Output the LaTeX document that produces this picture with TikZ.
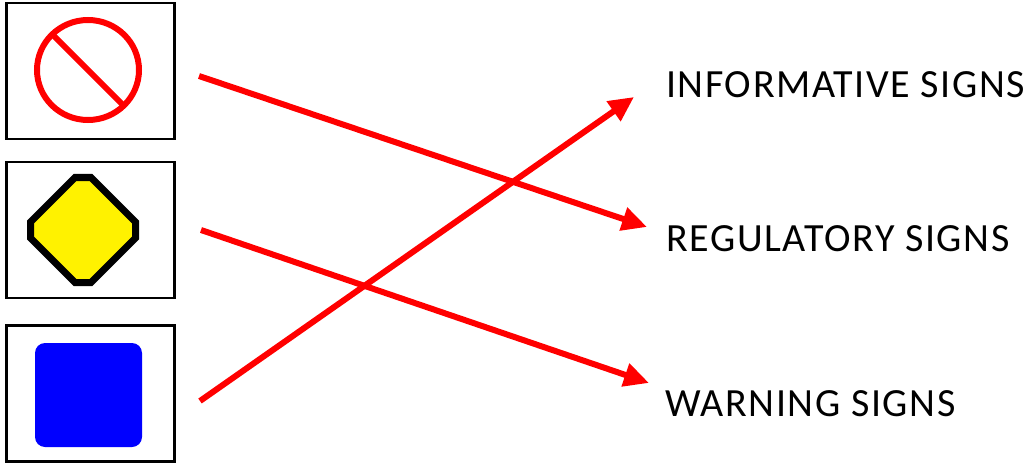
\documentclass[tikz,border=0pt]{standalone}
\usepackage{fontspec}
\setmainfont{Carlito}
\usepackage{tikz}
\usetikzlibrary{positioning,arrows.meta}
\tikzset{signbox/.style={rectangle, draw=black, line width=2.5pt, fill=white, minimum width=168pt, minimum height=136pt, inner sep=0pt},
label-text/.style={anchor=base west, inner sep=0pt, font=\fontsize{40}{48}\selectfont\addfontfeatures{LetterSpace=4}},
arrow/.style={draw=red, line width=6pt, -{Triangle[length=25pt,width=23pt]}}}

\begin{document}
\begin{tikzpicture}[x=1pt, y=-1pt]
\useasboundingbox (0,0) rectangle (1032,465);
\node (prohibit) [signbox] at (90.5,71) {};
\node (caution) [signbox] at (90.5,230) {};
\node (info) [signbox] at (90.5,393.5) {};
% the three signs
\draw [red, line width=6pt] (88,70) ellipse [x radius=51, y radius=50];
\draw [red, line width=6pt] (88,70) ++(225:50) -- ++(45:100);
\draw [black, fill=yellow, line width=7pt] (75,177.5) -- (91,177.5) -- (135.5,222) -- (135.5,238) -- (91,282.5) -- (75,282.5) -- (30.5,238) -- (30.5,222) -- cycle;
\fill [blue, rounded corners=10pt] (35,343) rectangle (142,447);
\node (n-info) [label-text] at (666,98) {INFORMATIVE SIGNS};
\node (n-reg) [label-text] at (666,251) {REGULATORY SIGNS};
\node (n-warn) [label-text] at (665,416) {WARNING SIGNS};
\coordinate (s-prohibit) at (199,76);
\coordinate (s-caution) at (201,230);
\coordinate (s-info) at (200,401);
\coordinate (e-reg) at (647,227);
\coordinate (e-warn) at (649,383);
\coordinate (e-info) at (634,97);
\draw [arrow] (s-prohibit) -- (e-reg);
\draw [arrow] (s-caution) -- (e-warn);
\draw [arrow] (s-info) -- (e-info);
\end{tikzpicture}
\end{document}
